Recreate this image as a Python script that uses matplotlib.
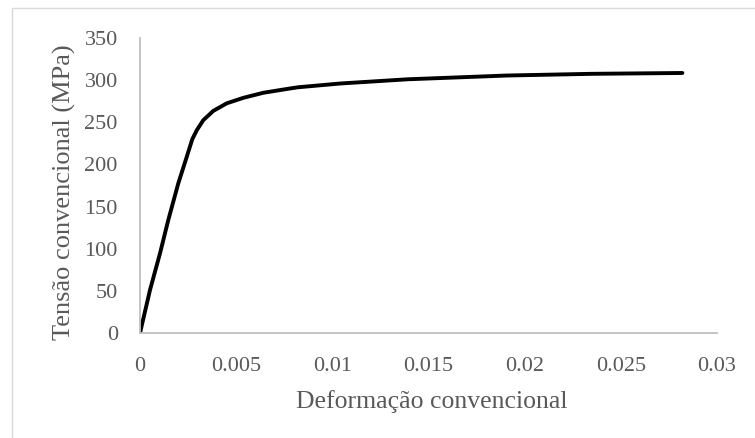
import matplotlib
matplotlib.use("Agg")
import matplotlib.pyplot as plt
from matplotlib.patches import Rectangle

# stress-strain curve, engineering values
strain = [0.0, 0.00052, 0.00104, 0.00147, 0.00199, 0.00243, 0.00272,
          0.00295, 0.00329, 0.00381, 0.00451, 0.00537, 0.00641, 0.00763,
          0.0082, 0.0104, 0.0139, 0.0191, 0.0235, 0.0282]
stress = [0.0, 51.0, 94.5, 134.0, 177.5, 209.0, 230.0,
          240.5, 252.5, 263.5, 272.5, 279.0, 285.0, 289.5,
          291.5, 296.0, 301.0, 305.5, 307.5, 308.5]

x_ticks = [0, 0.005, 0.01, 0.015, 0.02, 0.025, 0.03]
x_tick_labels = ["0", "0.005", "0.01", "0.015", "0.02", "0.025", "0.03"]
y_ticks = [0, 50, 100, 150, 200, 250, 300, 350]

TXT = "#595959"
AXC = "#bfbfbf"
W, H = 755, 438

plt.rcParams["font.family"] = ["Liberation Serif", "DejaVu Serif"]

fig = plt.figure(figsize=(W / 100, H / 100), dpi=100)
fig.patch.set_facecolor("white")

# chart area border (runs off the right and bottom edges)
fig.add_artist(Rectangle((12 / W, -0.05), 1.2, 0.05 + (H - 8) / H,
                         transform=fig.transFigure, fill=False,
                         edgecolor="#d9d9d9", linewidth=1.0))

ax = fig.add_axes([140 / W, (H - 333) / H, (717 - 140) / W, (333 - 38) / H])
ax.plot(strain, stress, color="black", linewidth=2.8,
        solid_capstyle="round", solid_joinstyle="round")

ax.set_xlim(0, 0.03)
ax.set_ylim(0, 350)
ax.set_xticks(x_ticks)
ax.set_xticklabels(x_tick_labels)
ax.set_yticks(y_ticks)

for side in ("top", "right"):
    ax.spines[side].set_visible(False)
for side in ("left", "bottom"):
    ax.spines[side].set_color(AXC)
    ax.spines[side].set_linewidth(1.3)

ax.tick_params(axis="both", length=0, labelsize=16, colors=TXT)
ax.tick_params(axis="x", pad=17)
ax.tick_params(axis="y", pad=16)

ax.set_xlabel("Deformação convencional", fontsize=18.5, color=TXT)
ax.set_ylabel("Tensão convencional (MPa)", fontsize=19, color=TXT)
# label positions in pixel terms relative to the plot box
ax.xaxis.set_label_coords((432 - 140) / (717 - 140), -(390 - 333) / (333 - 38))
ax.yaxis.set_label_coords(-(140 - 76) / (717 - 140), (333 - 192) / (333 - 38))

fig.savefig("out.png", dpi=100)
